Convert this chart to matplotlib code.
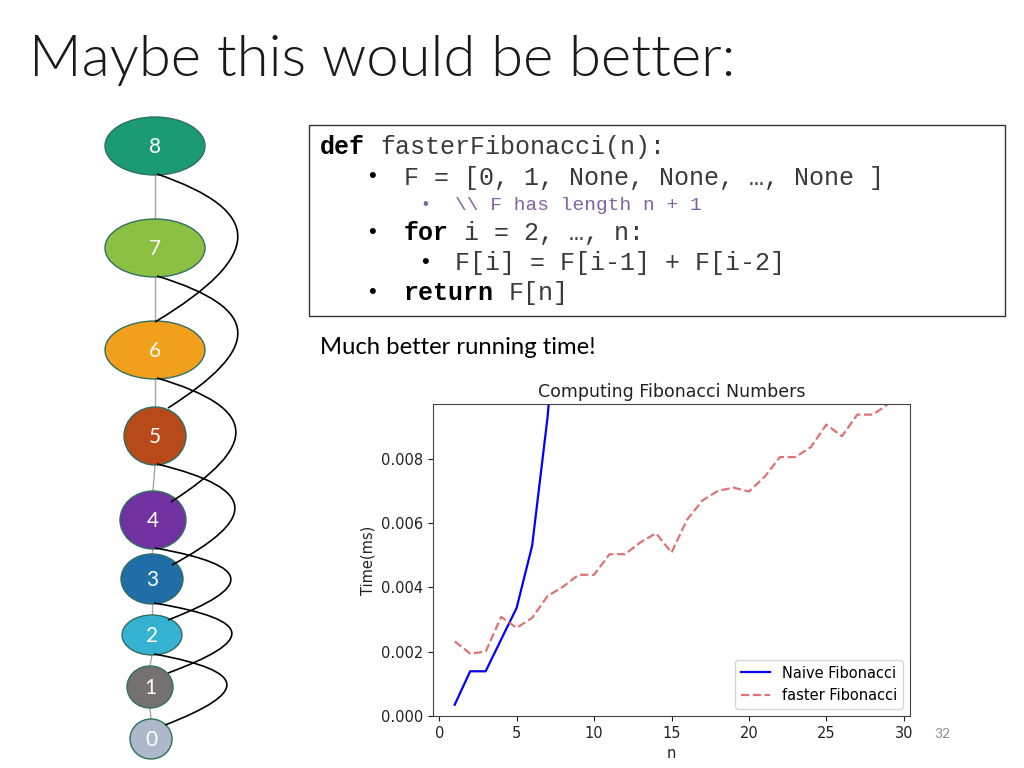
import matplotlib
matplotlib.use("Agg")
import matplotlib.pyplot as plt
from matplotlib.patches import Ellipse, Rectangle, PathPatch
from matplotlib.path import Path
from matplotlib.ticker import FormatStrFormatter

# chart data
n_naive = [1, 2, 3, 4, 5, 6, 7, 8, 9, 10]
t_naive = [0.00035, 0.00139, 0.00139, 0.00238, 0.00336, 0.00529, 0.0093, 0.0150, 0.0240, 0.038]

n_fast = list(range(1, 30))
t_fast = [0.00232, 0.00194, 0.00200, 0.00308, 0.00274, 0.00305, 0.00373, 0.00402,
          0.00439, 0.00439, 0.00503, 0.00503, 0.00540, 0.00568, 0.00508, 0.00610,
          0.00670, 0.00700, 0.00710, 0.00698, 0.00743, 0.00805, 0.00805, 0.00836,
          0.00906, 0.00870, 0.00937, 0.00937, 0.00970]

# recursion-tree diagram nodes
node_labels = ["8", "7", "6", "5", "4", "3", "2", "1", "0"]
node_colors = ["#1a9b74", "#8cc043", "#f1a01c", "#b84a19", "#7131a1",
               "#1f6ea8", "#35b1d1", "#767171", "#adb9ca"]
node_xy = [(155, 146), (155, 248), (155, 350), (155, 436), (153, 520),
           (152, 579), (152, 635), (150, 687), (151, 739)]
node_wh = [(100, 58), (100, 58), (100, 58), (62, 58), (66, 58),
           (62, 50), (60, 40), (46, 42), (42, 40)]
# where each curve lands on node k-2, and how far it bows out
curve_end = [(155, 322), (168, 408), (171, 502), (172, 565), (168, 620), (168, 673), (165, 725)]
curve_bulge = [238, 238, 236, 235, 231, 232, 227]

fig = plt.figure(figsize=(10.24, 7.68), dpi=100)
fig.patch.set_facecolor("white")

ov = fig.add_axes([0, 0, 1, 1])
ov.set_xlim(0, 1024)
ov.set_ylim(768, 0)
ov.axis("off")

ov.text(29, 60, "Maybe this would be better:", fontsize=41.8, family="Lato",
        fontweight=300, va="center", ha="left", color="#1a1a1a")

# gray links between consecutive nodes
for i in range(len(node_xy) - 1):
    (x1, y1), (w1, h1) = node_xy[i], node_wh[i]
    (x2, y2), (w2, h2) = node_xy[i + 1], node_wh[i + 1]
    ov.plot([x1, x2], [y1 + h1 / 2, y2 - h2 / 2], color="#a6a6a6", lw=1, zorder=1)

# black curves from node k to node k-2
for i in range(len(curve_end)):
    (cx, cy), (w, h) = node_xy[i], node_wh[i]
    sx, sy = cx + 2, cy + h / 2 - 1
    ex, ey = curve_end[i]
    mx = curve_bulge[i]
    hh = ey - sy
    verts = [(sx, sy),
             (mx + 0.33 * (mx - sx), sy + 0.25 * hh),
             (mx + 0.33 * (mx - ex), ey - 0.45 * hh),
             (ex, ey)]
    p = Path(verts, [Path.MOVETO, Path.CURVE4, Path.CURVE4, Path.CURVE4])
    ov.add_patch(PathPatch(p, fc="none", ec="black", lw=1.2, zorder=3))

for lab, col, (x, y), (w, h) in zip(node_labels, node_colors, node_xy, node_wh):
    ov.add_patch(Ellipse((x, y), w, h, fc=col, ec="#2f6f60", lw=1, zorder=2))
    ov.text(x, y + 1, lab, color="white", fontsize=15, family="Lato",
            ha="center", va="center", zorder=4)

# code box
ov.add_patch(Rectangle((309, 125), 696, 191, fc="white", ec="#333333", lw=1))
mono = "Liberation Mono"
code_col = "#3a3a3a"
purple = "#8064a2"
cw = 15  # one monospace character at 18 pt, in pixels


def code(x, y, s, bold=False, size=18, color=None):
    ov.text(x, y, s, family=mono, fontsize=size, va="center",
            fontweight="bold" if bold else "normal",
            color=color or ("black" if bold else code_col))


def bullet(x, y, size=16, color="black"):
    ov.text(x, y, "\u2022", fontsize=size, family="Liberation Sans", va="center", color=color)


code(320, 147, "def", bold=True)
code(320 + 4 * cw, 147, "fasterFibonacci(n):")
bullet(368, 177)
code(404, 178, "F = [0, 1, None, None, \u2026, None ]")
bullet(422, 204, size=12, color=purple)
code(455, 205, "\\\\ F has length n + 1", size=14, color=purple)
bullet(368, 232)
code(404, 233, "for", bold=True)
code(404 + 4 * cw, 233, "i = 2, \u2026, n:")
bullet(421, 262)
code(455, 263, "F[i] = F[i-1] + F[i-2]")
bullet(368, 292)
code(404, 293, "return", bold=True)
code(404 + 7 * cw, 293, "F[n]")

ov.text(320, 347, "Much better running time!", family="Lato", fontsize=17.2, va="center")
ov.text(934, 734, "32", family="Lato", fontsize=10, color="#8c8c8c", va="center")

# embedded timing chart
ax = fig.add_axes([433 / 1024, 52 / 768, 477 / 1024, 312 / 768])
ax.plot(n_naive, t_naive, color="blue", lw=1.6, label="Naive Fibonacci")
ax.plot(n_fast, t_fast, "--", color="#d9595c", alpha=0.85, lw=1.6, label="faster Fibonacci")
ax.set_xlim(-0.4, 30.4)
ax.set_ylim(0, 0.0097)
ax.set_xticks([0, 5, 10, 15, 20, 25, 30])
ax.set_yticks([0, 0.002, 0.004, 0.006, 0.008])
ax.yaxis.set_major_formatter(FormatStrFormatter("%.3f"))
ax.tick_params(labelsize=10.5, colors="#222222")
for s in ax.spines.values():
    s.set_color("#444444")
ax.set_title("Computing Fibonacci Numbers", fontsize=12.5, color="#222222", pad=5)
ax.set_xlabel("n", fontsize=10.5, color="#222222")
ax.set_ylabel("Time(ms)", fontsize=10.5, color="#222222")
ax.legend(loc="lower right", fontsize=10.5)

fig.savefig("out.png", dpi=100, facecolor="white")
